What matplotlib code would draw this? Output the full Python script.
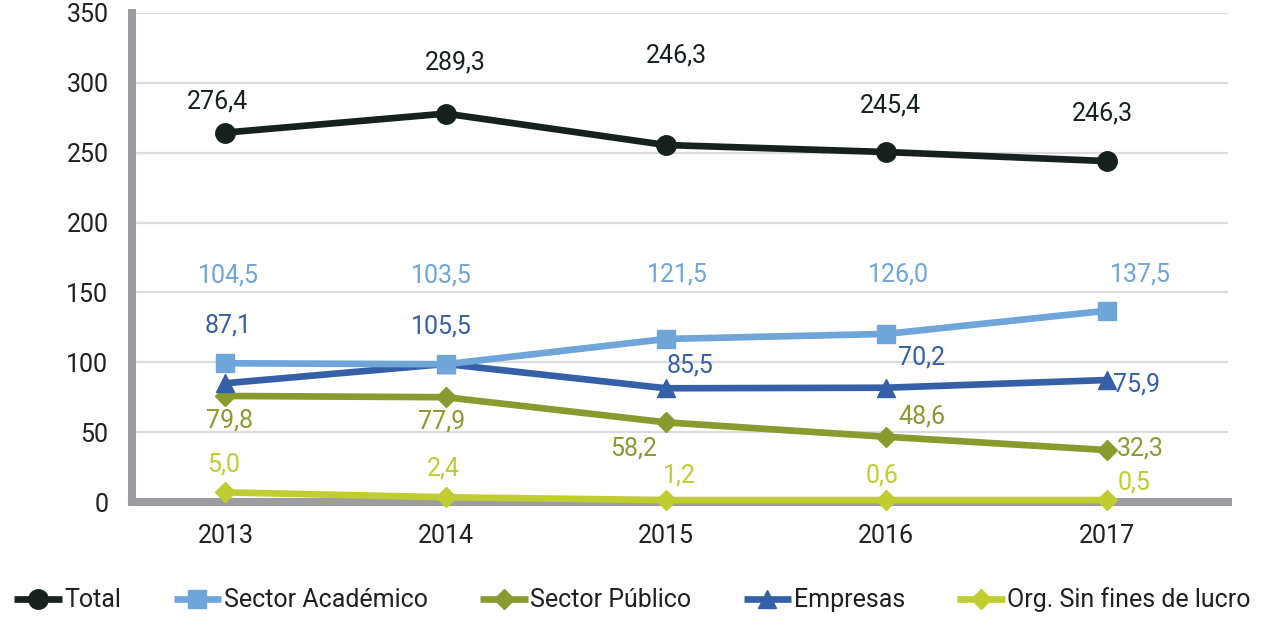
import matplotlib
matplotlib.use("Agg")
import matplotlib.pyplot as plt
import numpy as np

plt.rcParams["font.family"] = ["Roboto", "DejaVu Sans"]

# datos
years = ["2013", "2014", "2015", "2016", "2017"]
total = [264.4, 278.0, 255.5, 250.5, 244.0]
academico = [99.3, 98.6, 116.7, 120.3, 136.9]
publico = [75.9, 75.0, 57.0, 46.7, 37.2]
empresas = [85.0, 98.8, 81.4, 81.8, 87.3]
sin_fines = [6.9, 3.4, 1.4, 1.4, 1.4]

total_lbl = ["276,4", "289,3", "246,3", "245,4", "246,3"]
academico_lbl = ["104,5", "103,5", "121,5", "126,0", "137,5"]
publico_lbl = ["79,8", "77,9", "58,2", "48,6", "32,3"]
empresas_lbl = ["87,1", "105,5", "85,5", "70,2", "75,9"]
sin_fines_lbl = ["5,0", "2,4", "1,2", "0,6", "0,5"]

# desplazamiento de cada etiqueta respecto al punto (pixeles)
total_off = [(-8, 31), (10, 51), (10, 90), (4, 47), (-4, 48)]
academico_off = [(3, 88), (-4, 89), (11, 64), (12, 59), (34, 36)]
publico_off = [(4, -25), (-4, -24), (-32, -26), (36, 20), (34, 2)]
empresas_off = [(3, 58), (-4, 37), (24, 23), (35, 30), (30, -4)]
sin_fines_off = [(-2, 28), (-2, 29), (13, 25), (-4, 25), (27, 18)]

fig = plt.figure(figsize=(12.65, 6.19), dpi=100)
ax = fig.add_axes([132 / 1265, 117 / 619, 1096 / 1265, 489 / 619])

x = np.arange(len(years))
series = [
    ("Total", total, total_lbl, total_off, "#16211f", "o", 14, 6),
    ("Sector Académico", academico, academico_lbl, academico_off, "#6fa5d8", "s", 13, 5),
    ("Sector Público", publico, publico_lbl, publico_off, "#8a9a2e", "D", 10, 4),
    ("Empresas", empresas, empresas_lbl, empresas_off, "#3560a8", "^", 13, 4.5),
    ("Org. Sin fines de lucro", sin_fines, sin_fines_lbl, sin_fines_off, "#c0cd30", "D", 10, 6),
]
for name, vals, lbls, offs, color, mk, ms, z in series:
    ax.plot(x, vals, color=color, lw=4.8, marker=mk, ms=ms, label=name,
            zorder=z, clip_on=False, solid_capstyle="butt")
    for xi, v, t, (dx, dy) in zip(x, vals, lbls, offs):
        ax.annotate(t, (xi, v), xytext=(dx, dy), textcoords="offset pixels",
                    ha="center", va="center", fontsize=18, color=color)

ax.set_xlim(-0.424, 4.551)
ax.set_ylim(0, 350)
ax.set_yticks(range(0, 351, 50))
ax.set_xticks(x)
ax.set_xticklabels(years)
ax.tick_params(axis="both", length=0, labelsize=18, colors="#231f20")
ax.tick_params(axis="y", pad=17)
ax.tick_params(axis="x", pad=16)
ax.grid(axis="y", color="#dcdbe0", lw=1.6)
ax.set_axisbelow(True)
for s in ["top", "right"]:
    ax.spines[s].set_visible(False)
for s in ["left", "bottom"]:
    ax.spines[s].set_color("#9d9ca1")
    ax.spines[s].set_linewidth(5.8)

fig.legend(loc="center", bbox_to_anchor=(0.5, 19 / 619), ncol=5, frameon=False,
           fontsize=18, handlelength=1.9, handletextpad=0.1, columnspacing=2.1,
           labelcolor="#231f20")

fig.savefig("out.png", dpi=100)
